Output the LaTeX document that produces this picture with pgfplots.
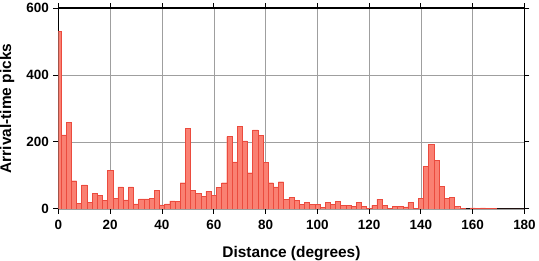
\documentclass[border=0pt]{standalone}
\usepackage{fontspec}
\setmainfont{Liberation Sans}
\usepackage{pgfplots}
\pgfplotsset{compat=1.18}
\definecolor{barfill}{RGB}{250,128,114}
\definecolor{baredge}{RGB}{235,75,62}
\pgfplotsset{layers/mine/.define layer set={axis background,axis grid,main,axis ticks,axis lines,axis tick labels,axis descriptions,axis foreground}{}}
\begin{document}
\begin{tikzpicture}
\begin{axis}[
  set layers=mine,
  scale only axis,
  width=468pt, height=201.6pt,
  xmin=0, xmax=180, ymin=0, ymax=600,
  xtick={0,20,...,180}, ytick={0,200,400,600},
  xtick pos=both, ytick pos=both,
  tick align=outside,
  major tick length=5pt,
  tick style={black, line width=0.9pt},
  axis line style={black, line width=1.3pt},
  grid=major,
  major grid style={gray!75, line width=0.5pt},
  /pgf/number format/assume math mode=true,
  tick label style={font=\fontsize{13.5}{14}\selectfont\bfseries},
  xticklabel style={yshift=-3pt},
  yticklabel style={xshift=-1pt},
  xlabel={Distance (degrees)},
  ylabel={Arrival-time picks},
  label style={font=\fontsize{15.5}{16}\selectfont\bfseries, inner sep=0pt},
  xlabel style={at={(axis description cs:0.5,-0.1835)}, anchor=north},
  ylabel style={at={(axis description cs:-0.094,0.5)}, anchor=south},
]
\addplot[ybar, bar width=2, bar shift=0pt, fill=barfill, draw=baredge, line width=0.4pt]
coordinates {
(0,531) (2,221) (4,258) (6,84) (8,16) (10,72) (12,19) (14,47) (16,40) (18,25)
(20,114) (22,31) (24,66) (26,27) (28,66) (30,15) (32,30) (34,30) (36,31) (38,55)
(40,12) (42,15) (44,24) (46,22) (48,78) (50,240) (52,55) (54,46) (56,37) (58,52)
(60,40) (62,64) (64,78) (66,216) (68,140) (70,246) (72,203) (74,108) (76,236) (78,219)
(80,138) (82,78) (84,66) (86,81) (88,28) (90,34) (92,25) (94,13) (96,19) (98,13)
(100,13) (102,5) (104,19) (106,13) (108,22) (110,10) (112,10) (114,7) (116,19) (118,7)
(120,2) (122,10) (124,29) (126,10) (128,2) (130,7) (132,7) (134,6) (136,19) (138,1)
(140,31) (142,126) (144,192) (146,144) (148,67) (150,31) (152,34) (154,7) (156,2) (158,0)
(160,3) (162,1) (164,3) (166,1) (168,1) (170,0) (172,0) (174,0) (176,0) (178,0) (180,0)
};
\end{axis}
\end{tikzpicture}
\end{document}
